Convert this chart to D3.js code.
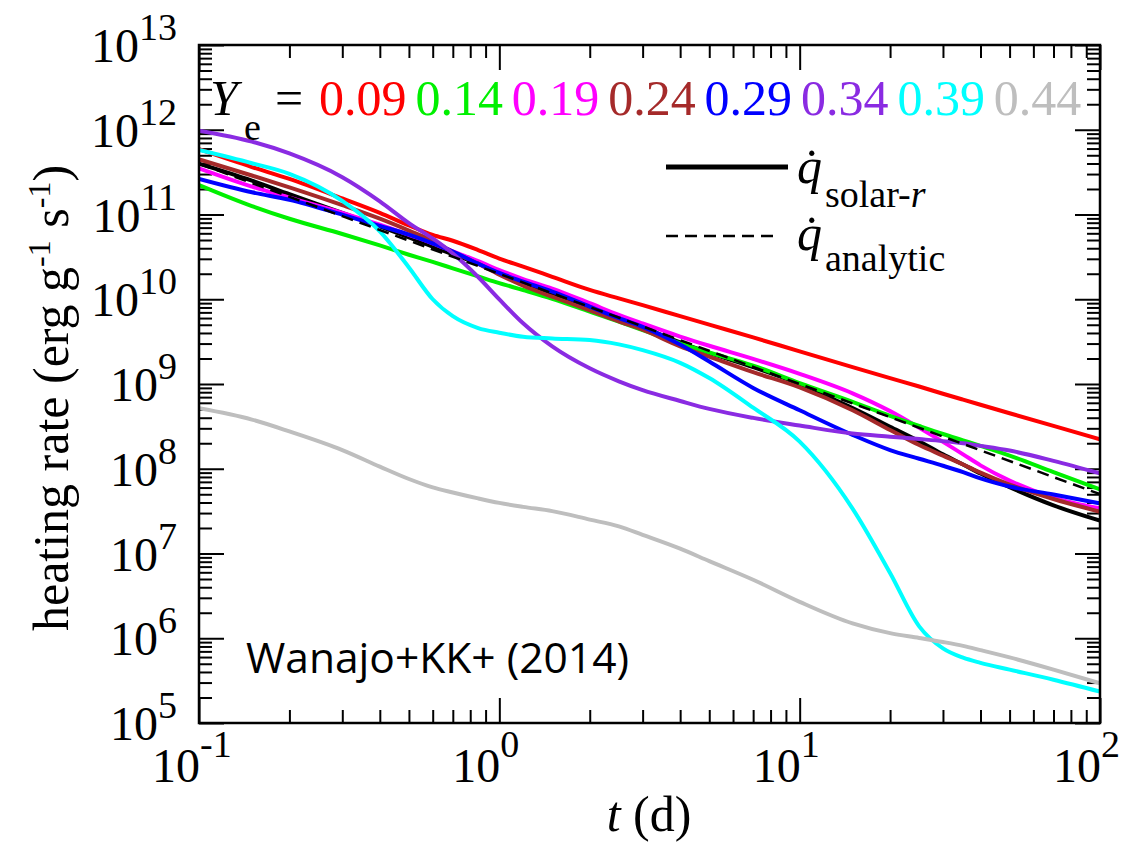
<!DOCTYPE html>
<html>
<head>
<meta charset="utf-8">
<script src="https://cdn.jsdelivr.net/npm/d3@7"></script>
<style>
  body { margin: 0; background: #fff; }
  svg { display: block; }
</style>
</head>
<body>
<svg id="chart" width="1132" height="842"></svg>
<script>
// Time grid in days
const tDays = [0.1, 0.15, 0.2, 0.3, 0.4, 0.5, 0.6, 0.7, 0.85, 1, 1.2, 1.5, 2, 2.5, 3, 4, 5, 7, 10, 15, 20, 25, 30, 35, 40, 50, 70, 100];

// log10 of the heating rate (erg g^-1 s^-1) for each electron fraction Ye
const logQ_009 = [11.77, 11.56, 11.42, 11.19, 11.02, 10.87, 10.76, 10.69, 10.58, 10.48, 10.385, 10.265, 10.11, 10.01, 9.93, 9.80, 9.70, 9.55, 9.385, 9.20, 9.07, 8.97, 8.885, 8.815, 8.755, 8.655, 8.505, 8.347];
const logQ_014 = [11.348, 11.10, 10.95, 10.77, 10.635, 10.525, 10.44, 10.365, 10.27, 10.19, 10.109, 10.006, 9.854, 9.735, 9.636, 9.48, 9.372, 9.217, 9.01, 8.79, 8.625, 8.505, 8.41, 8.335, 8.27, 8.155, 7.96, 7.757];
const logQ_019 = [11.545, 11.33, 11.20, 11.02, 10.88, 10.76, 10.66, 10.565, 10.45, 10.345, 10.238, 10.126, 9.953, 9.816, 9.714, 9.56, 9.451, 9.296, 9.12, 8.89, 8.68, 8.484, 8.317, 8.17, 8.04, 7.86, 7.66, 7.533];
const logQ_024 = [11.65, 11.46, 11.32, 11.11, 10.95, 10.81, 10.69, 10.56, 10.42, 10.29, 10.16, 10.03, 9.87, 9.74, 9.64, 9.445, 9.323, 9.14, 8.96, 8.69, 8.457, 8.28, 8.155, 8.05, 7.955, 7.814, 7.643, 7.493];
const logQ_029 = [11.419, 11.262, 11.174, 10.998, 10.865, 10.762, 10.659, 10.563, 10.42, 10.31, 10.208, 10.09, 9.914, 9.776, 9.675, 9.465, 9.265, 8.954, 8.69, 8.40, 8.221, 8.118, 8.035, 7.96, 7.886, 7.79, 7.696, 7.592];
const logQ_034 = [11.989, 11.86, 11.72, 11.44, 11.155, 10.898, 10.717, 10.54, 10.263, 9.999, 9.716, 9.444, 9.185, 9.032, 8.928, 8.80, 8.706, 8.60, 8.51, 8.415, 8.378, 8.35, 8.326, 8.30, 8.27, 8.215, 8.093, 7.946];
const logQ_039 = [11.761, 11.605, 11.48, 11.16, 10.80, 10.375, 10.0, 9.80, 9.66, 9.605, 9.558, 9.538, 9.519, 9.468, 9.40, 9.25, 9.07, 8.72, 8.32, 7.53, 6.77, 6.14, 5.88, 5.77, 5.71, 5.63, 5.51, 5.37];
const logQ_044 = [8.713, 8.58, 8.44, 8.22, 8.025, 7.879, 7.78, 7.72, 7.65, 7.597, 7.55, 7.50, 7.40, 7.32, 7.22, 7.057, 6.91, 6.69, 6.43, 6.175, 6.06, 6.004, 5.956, 5.91, 5.86, 5.774, 5.63, 5.468];

// Solar r-process heating rate
const logQ_solar = [11.60, 11.40, 11.24, 11.02, 10.86, 10.73, 10.62, 10.53, 10.42, 10.32, 10.20, 10.07, 9.90, 9.78, 9.67, 9.49, 9.367, 9.20, 9.00, 8.715, 8.496, 8.325, 8.17, 8.05, 7.944, 7.783, 7.568, 7.387];

// Analytic heating rate
const tAnalytic = [0.1, 0.3, 1, 3, 10, 30, 100];
const logQ_analytic = [11.60, 10.98, 10.30, 9.68, 9.00, 8.38, 7.70];

const yeLabels = ["0.09", "0.14", "0.19", "0.24", "0.29", "0.34", "0.39", "0.44"];
const yeColors = ["#ff0000", "#00f000", "#ff00ff", "#a52a2a", "#0000ff", "#8a2be2", "#00ffff", "#bebebe"];
const yeSeries = [logQ_009, logQ_014, logQ_019, logQ_024, logQ_029, logQ_034, logQ_039, logQ_044];

const xMajor = [0.1, 1, 10, 100];
const xExp = ["-1", "0", "1", "2"];
const yMajor = [1e5, 1e6, 1e7, 1e8, 1e9, 1e10, 1e11, 1e12, 1e13];
const yExp = ["5", "6", "7", "8", "9", "10", "11", "12", "13"];

const SERIF = "'Liberation Serif', 'Times New Roman', Times, serif";

// ---- layout ----
const L = 199, R = 1100, T = 45, B = 723;
const x = d3.scaleLog().domain([0.1, 100]).range([L, R]);
const y = d3.scaleLog().domain([1e5, 1e13]).range([B, T]);

const svg = d3.select("#chart");

svg.append("clipPath").attr("id", "plotClip")
  .append("rect").attr("x", L).attr("y", T).attr("width", R - L).attr("height", B - T);

// minor tick values: 2..9 within each decade
function minors(lo, hi) {
  const out = [];
  for (let e = lo; e < hi; e++) for (let k = 2; k <= 9; k++) out.push(k * Math.pow(10, e));
  return out;
}
const xMinor = minors(-1, 2);
const yMinor = minors(5, 13);

function drawTicks(axisFn, scale, values, size, transform) {
  const g = svg.append("g").attr("transform", transform)
    .call(axisFn(scale).tickValues(values).tickSize(size).tickFormat(""));
  g.select(".domain").remove();
  g.selectAll(".tick line").attr("stroke", "#000").attr("stroke-width", 2);
}
const MAJ = 25, MIN = 13;
drawTicks(d3.axisBottom, x, xMajor, -MAJ, `translate(0,${B})`);
drawTicks(d3.axisBottom, x, xMinor, -MIN, `translate(0,${B})`);
drawTicks(d3.axisTop, x, xMajor, -MAJ, `translate(0,${T})`);
drawTicks(d3.axisTop, x, xMinor, -MIN, `translate(0,${T})`);
drawTicks(d3.axisLeft, y, yMajor, -MAJ, `translate(${L},0)`);
drawTicks(d3.axisLeft, y, yMinor, -MIN, `translate(${L},0)`);
drawTicks(d3.axisRight, y, yMajor, -MAJ, `translate(${R},0)`);
drawTicks(d3.axisRight, y, yMinor, -MIN, `translate(${R},0)`);

// ---- curves ----
const line = d3.line()
  .x(d => x(d[0]))
  .y(d => y(d[1]))
  .curve(d3.curveMonotoneX);

const plot = svg.append("g").attr("clip-path", "url(#plotClip)");

function pts(ts, logs) { return ts.map((t, i) => [t, Math.pow(10, logs[i])]); }

plot.append("path").datum(pts(tDays, logQ_solar))
  .attr("d", line).attr("fill", "none").attr("stroke", "#000")
  .attr("stroke-width", 4).attr("stroke-linejoin", "round");

const drawOrder = [0, 2, 1, 3, 4, 5, 6, 7];
drawOrder.forEach(i => {
  plot.append("path").datum(pts(tDays, yeSeries[i]))
    .attr("d", line).attr("fill", "none").attr("stroke", yeColors[i])
    .attr("stroke-width", 4).attr("stroke-linejoin", "round");
});

plot.append("path").datum(pts(tAnalytic, logQ_analytic))
  .attr("d", d3.line().x(d => x(d[0])).y(d => y(d[1])))
  .attr("fill", "none").attr("stroke", "#000")
  .attr("stroke-width", 2.5).attr("stroke-dasharray", "12,7");

// ---- frame ----
svg.append("rect").attr("x", L).attr("y", T).attr("width", R - L).attr("height", B - T)
  .attr("fill", "none").attr("stroke", "#000").attr("stroke-width", 2.5);

// serif text helper
function stext(xp, yp, size) {
  return svg.append("text").attr("x", xp).attr("y", yp)
    .attr("font-family", SERIF).attr("font-size", size).attr("fill", "#000");
}

// ---- tick labels ----
xMajor.forEach((v, i) => {
  const t = stext(x(v) - 47, B + 59, 48);
  t.append("tspan").text("10");
  t.append("tspan").attr("font-size", 38).attr("dy", -25).text(xExp[i]);
});
yMajor.forEach((v, i) => {
  const t = stext(177, y(v) + 17, 48).attr("text-anchor", "end");
  t.append("tspan").text("10");
  t.append("tspan").attr("font-size", 38).attr("dy", -22).text(yExp[i]);
});

// ---- axis titles ----
const xt = stext(649, 831, 50).attr("text-anchor", "middle");
xt.append("tspan").attr("font-style", "italic").text("t");
xt.append("tspan").text(" (d)");

const yt = svg.append("text")
  .attr("font-family", SERIF).attr("fill", "#000")
  .attr("transform", "translate(68,398) rotate(-90)")
  .attr("font-size", 50).attr("text-anchor", "middle");
yt.append("tspan").text("heating rate (erg g");
yt.append("tspan").attr("font-size", 32).attr("dy", -18).text("-1");
yt.append("tspan").attr("dy", 18).text(" s");
yt.append("tspan").attr("font-size", 32).attr("dy", -18).text("-1");
yt.append("tspan").attr("dy", 18).text(")");

// ---- Ye legend ----
stext(210, 115, 50).attr("font-style", "italic").text("Y");
stext(244, 140, 38).text("e");
stext(275, 115, 50).text("=");
yeLabels.forEach((lab, i) => {
  stext(319 + i * 96.4, 115, 50).attr("fill", yeColors[i]).text(lab);
});

// ---- line-style legend ----
svg.append("line").attr("x1", 666).attr("x2", 788).attr("y1", 167).attr("y2", 167)
  .attr("stroke", "#000").attr("stroke-width", 5);
svg.append("line").attr("x1", 666).attr("x2", 780).attr("y1", 236).attr("y2", 236)
  .attr("stroke", "#000").attr("stroke-width", 2.5).attr("stroke-dasharray", "12,7");

stext(797, 183, 50).attr("font-style", "italic").text("q\u0307");
const s1 = stext(825, 207, 38);
s1.append("tspan").text("solar-");
s1.append("tspan").attr("font-style", "italic").text("r");

stext(797, 250, 50).attr("font-style", "italic").text("q\u0307");
stext(825, 271, 38).text("analytic");

// ---- source note ----
svg.append("text")
  .attr("x", 246).attr("y", 673)
  .attr("font-family", "'Open Sans', 'Noto Sans', sans-serif")
  .attr("font-size", 42).attr("fill", "#000")
  .attr("textLength", 383).attr("lengthAdjust", "spacingAndGlyphs")
  .text("Wanajo+KK+ (2014)");
</script>
</body>
</html>
